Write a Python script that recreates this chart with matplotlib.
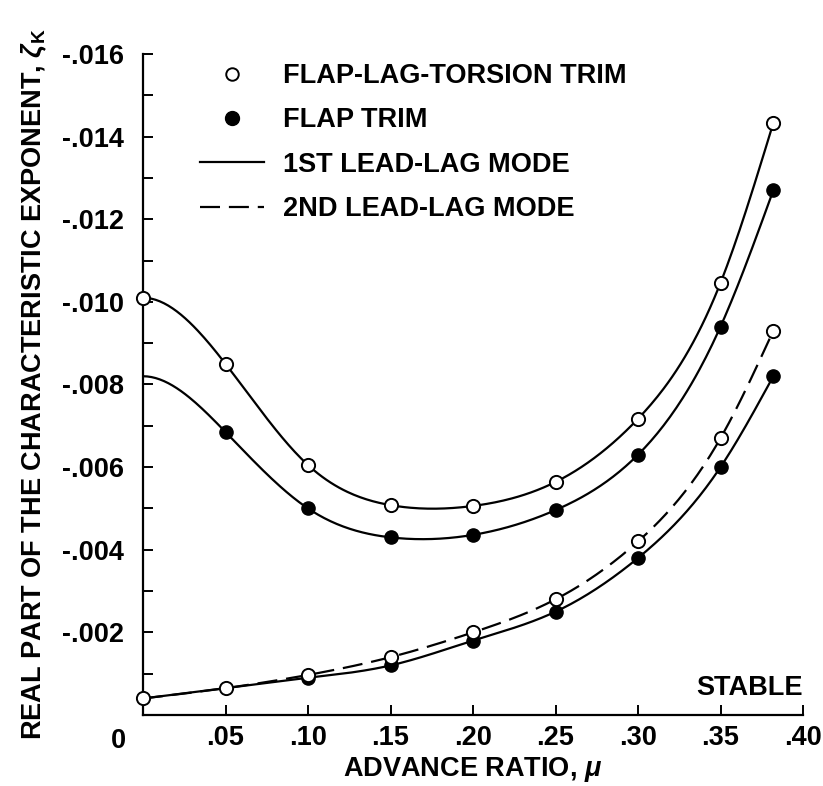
import matplotlib
matplotlib.use("Agg")
import matplotlib.pyplot as plt
import numpy as np
from matplotlib.lines import Line2D
from matplotlib.ticker import FixedLocator, MultipleLocator, FuncFormatter

plt.rcParams['font.family'] = ['Liberation Sans', 'DejaVu Sans']
plt.rcParams['font.weight'] = 'bold'
plt.rcParams['axes.labelweight'] = 'bold'
plt.rcParams['mathtext.fontset'] = 'custom'
plt.rcParams['mathtext.it'] = 'Liberation Sans:italic:bold'
plt.rcParams['mathtext.rm'] = 'Liberation Sans:bold'

FS = 19.5

# advance ratio stations
mu = [0.0, 0.05, 0.10, 0.15, 0.20, 0.25, 0.30, 0.35, 0.382]

# 1st lead-lag mode
lag1_flt = [-0.0101, -0.0085, -0.00605, -0.00508, -0.00506, -0.00564, -0.00717, -0.01046, -0.01433]
lag1_flap = [-0.0082, -0.00685, -0.0050, -0.0043, -0.00436, -0.00496, -0.0063, -0.0094, -0.0127]

# 2nd lead-lag mode
lag2_flt = [-0.0004, -0.00065, -0.00097, -0.0014, -0.0020, -0.0028, -0.0042, -0.0067, -0.0093]
lag2_flap = [-0.0004, -0.00065, -0.0009, -0.0012, -0.0018, -0.0025, -0.0038, -0.0060, -0.0082]

# flap-trim markers on the 1st mode start at mu = .05, 2nd mode at mu = .10
flap1_from = 1
flap2_from = 2

xticks = [0.0, 0.05, 0.10, 0.15, 0.20, 0.25, 0.30, 0.35, 0.40]
xticklabels = ['', '.05', '.10', '.15', '.20', '.25', '.30', '.35', '.40']


def spline(xk, yk, slope0=None, n=300):
    """Cubic spline through the knots; natural ends unless slope0 is given."""
    xk = np.asarray(xk, float)
    yk = np.asarray(yk, float)
    m = len(xk)
    h = np.diff(xk)
    A = np.zeros((m, m))
    b = np.zeros(m)
    for i in range(1, m - 1):
        A[i, i - 1] = h[i - 1]
        A[i, i] = 2 * (h[i - 1] + h[i])
        A[i, i + 1] = h[i]
        b[i] = 6 * ((yk[i + 1] - yk[i]) / h[i] - (yk[i] - yk[i - 1]) / h[i - 1])
    if slope0 is None:
        A[0, 0] = 1
    else:
        A[0, 0] = 2 * h[0]
        A[0, 1] = h[0]
        b[0] = 6 * ((yk[1] - yk[0]) / h[0] - slope0)
    A[-1, -1] = 1
    M = np.linalg.solve(A, b)
    xs = np.linspace(xk[0], xk[-1], n)
    idx = np.clip(np.searchsorted(xk, xs) - 1, 0, m - 2)
    x0, x1 = xk[idx], xk[idx + 1]
    hh = x1 - x0
    t0, t1 = x1 - xs, xs - x0
    ys = (M[idx] * t0 ** 3 / (6 * hh) + M[idx + 1] * t1 ** 3 / (6 * hh)
          + (yk[idx] / hh - M[idx] * hh / 6) * t0
          + (yk[idx + 1] / hh - M[idx + 1] * hh / 6) * t1)
    return xs, ys


fig = plt.figure(figsize=(8.23, 7.86), dpi=100)
ax = fig.add_axes([143 / 823, 71 / 786, 660 / 823, 661 / 786])

lw = 1.6
ms = 9.5
dash = (0, (9, 4))

ax.plot(*spline(mu, lag1_flt, slope0=0.0), color='black', lw=lw)
ax.plot(*spline(mu, lag1_flap, slope0=0.0), color='black', lw=lw)
ax.plot(*spline(mu, lag2_flap), color='black', lw=lw)
ax.plot(*spline(mu, lag2_flt), color='black', lw=lw, linestyle=dash)

ax.plot(mu[flap1_from:], lag1_flap[flap1_from:], 'o', ms=ms, color='black', zorder=3)
ax.plot(mu[flap2_from:], lag2_flap[flap2_from:], 'o', ms=ms, color='black', zorder=3)
for ys in (lag1_flt, lag2_flt):
    ax.plot(mu, ys, 'o', ms=ms, mfc='white', mec='black', mew=1.4, zorder=4, clip_on=False)

ax.set_xlim(0, 0.40)
ax.set_ylim(0, -0.016)

for side in ('top', 'right'):
    ax.spines[side].set_visible(False)
for side in ('left', 'bottom'):
    ax.spines[side].set_linewidth(1.6)

ax.xaxis.set_major_locator(FixedLocator(xticks))
ax.set_xticklabels(xticklabels)
ax.yaxis.set_major_locator(MultipleLocator(0.002))
ax.yaxis.set_minor_locator(MultipleLocator(0.001))
ax.yaxis.set_major_formatter(FuncFormatter(
    lambda v, p: '' if abs(v) < 1e-9 else ('%.3f' % v).replace('0.', '.')))

ax.tick_params(axis='both', which='both', direction='in', length=7, width=1.4,
               labelsize=FS)
ax.tick_params(axis='y', pad=14)
ax.tick_params(axis='x', pad=7)

ax.annotate('0', xy=(0, 0), xytext=(-18, -9), textcoords='offset points',
            ha='center', va='top', fontsize=FS, fontweight='bold')

ax.set_xlabel(r'ADVANCE RATIO, $\mu$', fontsize=FS, labelpad=3)
ax.set_ylabel(r'REAL PART OF THE CHARACTERISTIC EXPONENT, $\zeta_\mathrm{K}$',
              fontsize=FS, labelpad=9)

ax.text(0.40, -0.00065, 'STABLE', ha='right', va='center', fontsize=FS,
        fontweight='bold')

handles = [
    Line2D([], [], linestyle='none', marker='o', ms=9, mfc='white', mec='black', mew=1.4),
    Line2D([], [], linestyle='none', marker='o', ms=10, color='black'),
    Line2D([], [], color='black', lw=lw),
    Line2D([], [], color='black', lw=lw, linestyle=dash),
]
labels = ['FLAP-LAG-TORSION TRIM', 'FLAP TRIM', '1ST LEAD-LAG MODE', '2ND LEAD-LAG MODE']
ax.legend(handles, labels, loc='upper left', bbox_to_anchor=(200 / 823, 1 - 63 / 786),
          bbox_transform=fig.transFigure, frameon=False, fontsize=FS,
          handlelength=2.35, handletextpad=0.72, labelspacing=0.68,
          borderpad=0, borderaxespad=0, numpoints=1)

fig.savefig('out.png', dpi=100)
